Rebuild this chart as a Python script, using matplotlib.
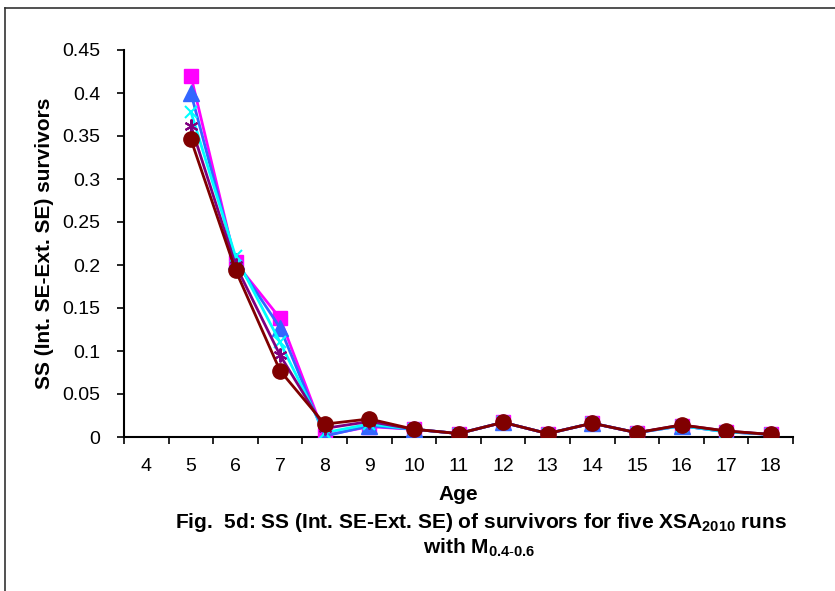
import numpy as np
import matplotlib
matplotlib.use("Agg")
import matplotlib.pyplot as plt
from matplotlib.lines import Line2D

plt.rcParams['font.family'] = ['Liberation Sans', 'DejaVu Sans']
plt.rcParams['mathtext.fontset'] = 'custom'
plt.rcParams['mathtext.rm'] = 'Liberation Sans'
plt.rcParams['mathtext.bf'] = 'Liberation Sans:bold'
plt.rcParams['mathtext.default'] = 'bf'

ages = [4, 5, 6, 7, 8, 9, 10, 11, 12, 13, 14, 15, 16, 17, 18]
data_ages = [5, 6, 7, 8, 9, 10, 11, 12, 13, 14, 15, 16, 17, 18]

run_magenta = [0.420, 0.203, 0.138, 0.002, 0.012, 0.009, 0.004, 0.017, 0.004, 0.016, 0.005, 0.013, 0.006, 0.003]
run_blue = [0.400, 0.205, 0.127, 0.001, 0.013, 0.009, 0.004, 0.017, 0.004, 0.016, 0.005, 0.013, 0.006, 0.003]
run_cyan = [0.378, 0.210, 0.110, 0.005, 0.015, 0.009, 0.004, 0.017, 0.004, 0.016, 0.005, 0.013, 0.006, 0.003]
run_purple = [0.362, 0.200, 0.095, 0.010, 0.018, 0.009, 0.004, 0.017, 0.004, 0.016, 0.005, 0.014, 0.007, 0.003]
run_red = [0.346, 0.194, 0.077, 0.015, 0.021, 0.009, 0.004, 0.017, 0.004, 0.016, 0.005, 0.014, 0.007, 0.003]

fig = plt.figure(figsize=(8.35, 5.91), dpi=100)
ax = fig.add_axes([124 / 835, 1 - 437 / 591, (793 - 124) / 835, (437 - 50) / 591])

xpos = [ages.index(a) for a in data_ages]
ax.plot(xpos, run_magenta, color='#FF00FF', lw=2, marker='s', ms=10, zorder=3)
ax.plot(xpos, run_blue, color='#3366FF', lw=2, marker='^', ms=11, zorder=4)
ax.plot(xpos, run_cyan, color='#00FFFF', lw=2, marker='x', ms=9, mew=1.5, zorder=5)
ax.plot(xpos, run_purple, color='#800080', lw=2, marker=(6, 2, 0), ms=10, mew=1.5, zorder=6)
ax.plot(xpos, run_red, color='#800000', lw=2, marker='o', ms=11, zorder=7)

ax.set_xlim(-0.5, len(ages) - 0.5)
ax.set_ylim(0, 0.45)
ax.set_xticks(range(len(ages)))
ax.set_xticklabels([str(a) for a in ages], fontsize=14)
ax.set_xticks(np.arange(-0.5, len(ages)), minor=True)
ax.tick_params(axis='x', which='major', length=0, pad=15)
ax.tick_params(axis='x', which='minor', length=5, width=1.2, direction='out')
yt = np.arange(0, 0.451, 0.05)
ax.set_yticks(yt)
ax.set_yticklabels(['0'] + ['%g' % round(v, 2) for v in yt[1:]], fontsize=14)
ax.tick_params(axis='y', length=5, width=1.2, direction='out', pad=12)
for s in ['top', 'right']:
    ax.spines[s].set_visible(False)
for s in ['left', 'bottom']:
    ax.spines[s].set_linewidth(1.5)

ax.set_ylabel('SS (Int. SE-Ext. SE) survivors', fontsize=15, fontweight='bold', labelpad=6)
fig.text(ax.get_position().x0 + ax.get_position().width / 2, 1 - 494 / 591, 'Age',
         ha='center', va='center', fontsize=15, fontweight='bold')
fig.text(481 / 835, 1 - 522 / 591,
         r'Fig.  5d: SS (Int. SE-Ext. SE) of survivors for five XSA$_{2010}$ runs',
         ha='center', va='center', fontsize=15, fontweight='bold')
fig.text(479 / 835, 1 - 548 / 591, r'with M$_{0.4\text{-}0.6}$',
         ha='center', va='center', fontsize=15, fontweight='bold')

# outer frame (top and left edges)
fig.add_artist(Line2D([5 / 835, 1], [1 - 8 / 591, 1 - 8 / 591], color='#333333', lw=1.2))
fig.add_artist(Line2D([5 / 835, 5 / 835], [0, 1 - 8 / 591], color='#333333', lw=1.2))

fig.savefig('out.png', dpi=100)
